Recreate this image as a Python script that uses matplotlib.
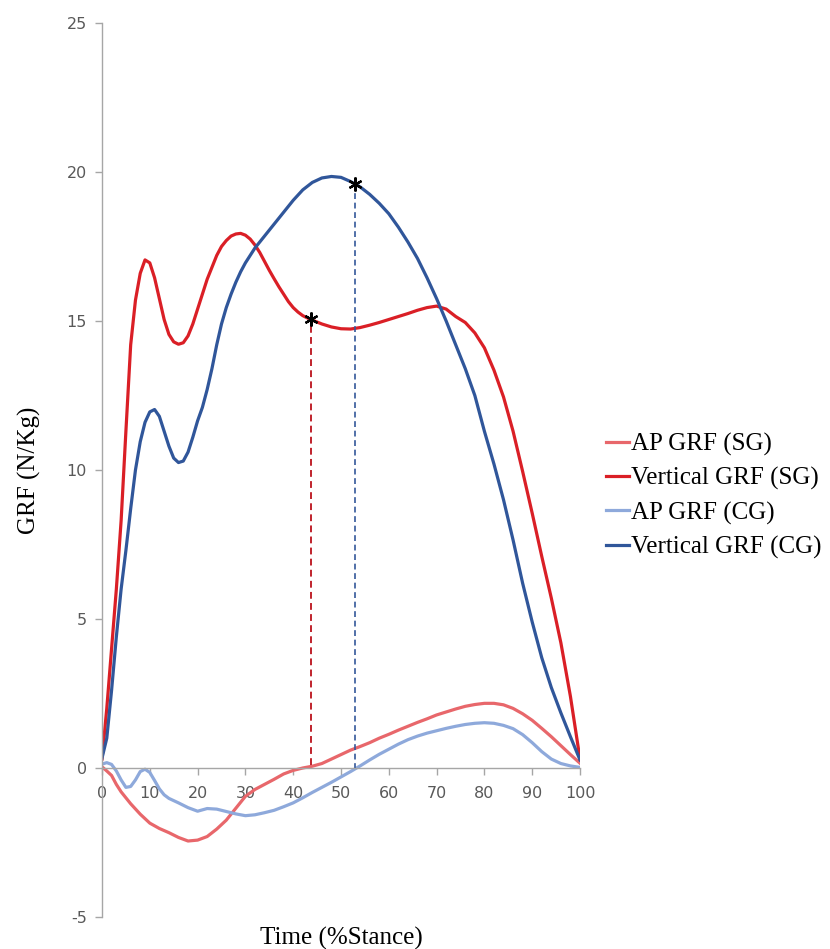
import matplotlib
matplotlib.use("Agg")
import matplotlib.pyplot as plt
import numpy as np

plt.rcParams['axes.unicode_minus'] = False

# Vertical GRF, stance group (SG)
vert_sg_x = [0, 1, 2, 3, 4, 5, 6, 7, 8, 9, 10, 11, 12, 13, 14, 15, 16, 17, 18, 19,
             20, 21, 22, 23, 24, 25, 26, 27, 28, 29, 30, 31, 32, 33, 34, 35, 36, 37, 38, 39,
             40, 41, 42, 43, 44, 46, 48, 50, 52, 54, 56, 58, 60, 62, 64, 66, 68, 70, 72, 74,
             76, 78, 80, 82, 84, 86, 88, 90, 92, 94, 96, 98, 100]
vert_sg_y = [0.3, 2.0, 4.0, 6.0, 8.3, 11.3, 14.2, 15.7, 16.6, 17.05, 16.95, 16.45, 15.75, 15.05, 14.55, 14.3, 14.22, 14.27, 14.5, 14.9,
             15.4, 15.9, 16.4, 16.8, 17.2, 17.5, 17.7, 17.85, 17.92, 17.94, 17.88, 17.75, 17.55, 17.3, 17.0, 16.7, 16.42, 16.15, 15.9, 15.65,
             15.45, 15.3, 15.18, 15.1, 15.03, 14.9, 14.8, 14.74, 14.73, 14.78, 14.86, 14.95, 15.05, 15.15, 15.25, 15.36, 15.45, 15.5, 15.4, 15.15,
             14.95, 14.6, 14.1, 13.35, 12.45, 11.3, 9.95, 8.55, 7.1, 5.7, 4.2, 2.4, 0.3]

# Vertical GRF, control group (CG)
vert_cg_x = [0, 1, 2, 3, 4, 5, 6, 7, 8, 9, 10, 11, 12, 13, 14, 15, 16, 17, 18, 19,
             20, 21, 22, 23, 24, 25, 26, 27, 28, 29, 30, 32, 34, 36, 38, 40, 42, 44, 46, 48,
             50, 52, 54, 56, 58, 60, 62, 64, 66, 68, 70, 72, 74, 76, 78, 80, 82, 84, 86, 88,
             90, 92, 94, 96, 98, 100]
vert_cg_y = [0.33, 1.0, 2.6, 4.4, 6.0, 7.3, 8.7, 10.0, 10.95, 11.6, 11.95, 12.03, 11.8, 11.3, 10.8, 10.4, 10.25, 10.3, 10.6, 11.1,
             11.65, 12.1, 12.7, 13.4, 14.2, 14.9, 15.45, 15.9, 16.3, 16.65, 16.95, 17.45, 17.85, 18.25, 18.65, 19.05, 19.4, 19.65, 19.8, 19.85,
             19.82, 19.68, 19.5, 19.25, 18.95, 18.6, 18.15, 17.65, 17.1, 16.45, 15.75, 15.0, 14.2, 13.4, 12.5, 11.3, 10.2, 9.0, 7.65, 6.2,
             4.9, 3.7, 2.7, 1.85, 1.05, 0.27]

# AP GRF, stance group (SG)
ap_sg_x = [0, 1, 2, 3, 4, 5, 6, 8, 10, 12, 14, 16, 18, 20, 22, 24, 26, 28, 30, 32,
           34, 36, 38, 40, 42, 44, 46, 48, 50, 52, 54, 56, 58, 60, 62, 64, 66, 68, 70, 72,
           74, 76, 78, 80, 82, 84, 86, 88, 90, 92, 94, 96, 98, 100]
ap_sg_y = [0.04, -0.1, -0.25, -0.55, -0.8, -1.0, -1.2, -1.55, -1.85, -2.03, -2.17, -2.33, -2.45, -2.42, -2.3, -2.05, -1.75, -1.35, -0.95, -0.72,
           -0.55, -0.38, -0.2, -0.08, 0.0, 0.06, 0.15, 0.3, 0.45, 0.6, 0.72, 0.85, 1.0, 1.13, 1.27, 1.4, 1.53, 1.65, 1.78, 1.88,
           1.98, 2.07, 2.13, 2.17, 2.17, 2.12, 2.0, 1.82, 1.6, 1.33, 1.05, 0.75, 0.45, 0.16]

# AP GRF, control group (CG)
ap_cg_x = [0, 1, 2, 3, 4, 5, 6, 7, 8, 9, 10, 11, 12, 13, 14, 16, 18, 20, 22, 24,
           26, 28, 30, 32, 34, 36, 38, 40, 42, 44, 46, 48, 50, 52, 54, 56, 58, 60, 62, 64,
           66, 68, 70, 72, 74, 76, 78, 80, 82, 84, 86, 88, 90, 92, 94, 96, 98, 100]
ap_cg_y = [0.13, 0.18, 0.12, -0.1, -0.4, -0.65, -0.62, -0.4, -0.12, -0.04, -0.15, -0.42, -0.7, -0.9, -1.02, -1.17, -1.33, -1.45, -1.36, -1.38,
           -1.46, -1.54, -1.6, -1.57, -1.5, -1.42, -1.3, -1.17, -1.0, -0.82, -0.65, -0.48, -0.3, -0.12, 0.07, 0.27, 0.46, 0.63, 0.8, 0.95,
           1.07, 1.17, 1.25, 1.33, 1.4, 1.46, 1.5, 1.52, 1.5, 1.43, 1.32, 1.12, 0.85, 0.55, 0.3, 0.15, 0.07, 0.02]

# marked points (*) and where their drop lines end
star_x = [43.7, 53.0]
star_y = [15.06, 19.6]
drop_bottom = [0.1, -0.05]

c_ap_sg = '#E8676B'
c_vert_sg = '#DA1F26'
c_ap_cg = '#8EA9DB'
c_vert_cg = '#30569A'

fig = plt.figure(figsize=(8.3, 9.49), dpi=100)
ax = fig.add_axes([102/830, 32/949, 478/830, 894/949])

ax.plot(ap_sg_x, ap_sg_y, color=c_ap_sg, lw=2.3, label='AP GRF (SG)')
ax.plot(vert_sg_x, vert_sg_y, color=c_vert_sg, lw=2.3, label='Vertical GRF (SG)')
ax.plot(ap_cg_x, ap_cg_y, color=c_ap_cg, lw=2.3, label='AP GRF (CG)')
ax.plot(vert_cg_x, vert_cg_y, color=c_vert_cg, lw=2.3, label='Vertical GRF (CG)')

# dashed drop lines
ax.plot([star_x[0], star_x[0]], [drop_bottom[0], star_y[0]], color='#C0222C', lw=1.4, ls=(0, (3.5, 2.2)))
ax.plot([star_x[1], star_x[1]], [drop_bottom[1], star_y[1]], color='#34589A', lw=1.2, ls=(0, (3.5, 2.2)))
ax.plot(star_x, star_y, ls='none', marker=(6, 2, 0), ms=10, mew=1.6, color='black')

ax.set_xlim(0, 100)
ax.set_ylim(-5, 25)
ax.set_xticks(np.arange(0, 101, 10))
ax.set_yticks(np.arange(-5, 26, 5))

ax.spines['top'].set_visible(False)
ax.spines['right'].set_visible(False)
ax.spines['bottom'].set_position(('data', 0))
for s in ['left', 'bottom']:
    ax.spines[s].set_color('#A6A6A6')
    ax.spines[s].set_linewidth(1.0)
ax.tick_params(axis='both', colors='#A6A6A6', length=5, width=1.0, direction='out',
               labelcolor='#595959', labelsize=11.5)
ax.tick_params(axis='x', pad=8)
ax.tick_params(axis='y', pad=6)

ax.set_xlabel('Time (%Stance)', family='Liberation Serif', fontsize=18)
ax.xaxis.set_label_coords(0.5, -0.011)
ax.set_ylabel('GRF (N/Kg)', family='Liberation Serif', fontsize=18)
ax.yaxis.set_label_coords(-0.128, 0.5)

fig.legend(loc='center left', bbox_to_anchor=(606/830, 1 - 496/949), frameon=False,
           prop={'family': 'Liberation Serif', 'size': 18}, handlelength=0.9,
           handletextpad=0.1, labelspacing=0.44, borderpad=0, borderaxespad=0)

fig.savefig('out.png', dpi=100)
